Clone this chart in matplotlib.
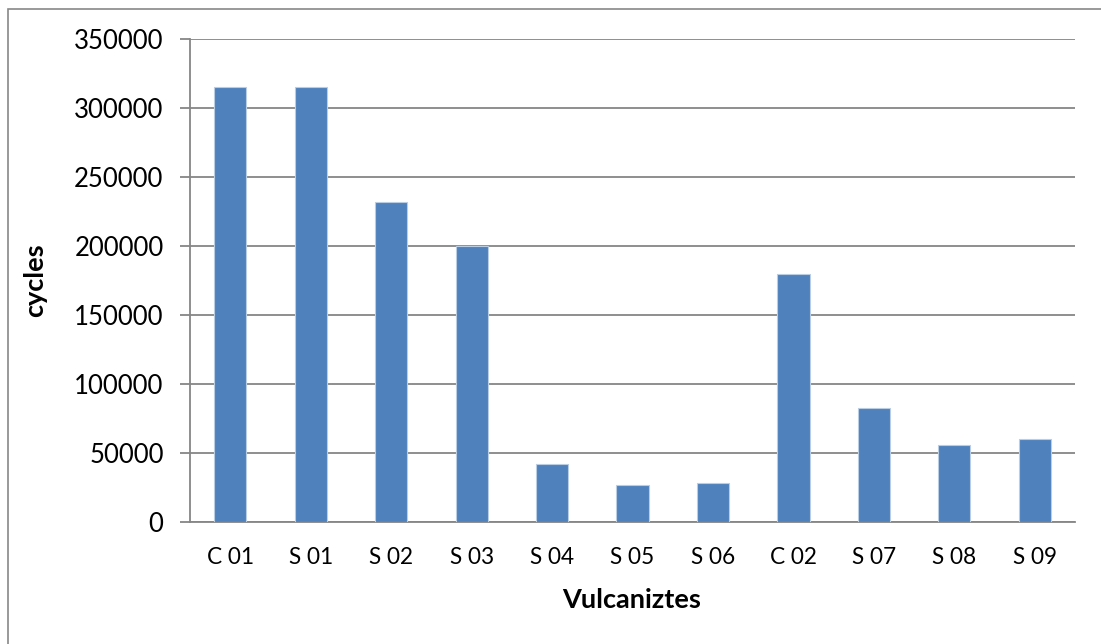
import matplotlib
matplotlib.use("Agg")
import matplotlib.pyplot as plt
from matplotlib.patches import Rectangle

# datos
categorias = ["C 01", "S 01", "S 02", "S 03", "S 04", "S 05", "S 06",
              "C 02", "S 07", "S 08", "S 09"]
ciclos = [315000, 315000, 232000, 200000, 42000, 27000, 28500,
          180000, 82500, 56000, 60000]
ticks_y = [0, 50000, 100000, 150000, 200000, 250000, 300000, 350000]

plt.rcParams['font.family'] = ['Lato', 'DejaVu Sans']

fig = plt.figure(figsize=(11.01, 6.44), dpi=100)
# marco gris alrededor del grafico
fig.patches.append(Rectangle((8 / 1101, -0.01), 1.1, 1 - 9 / 644 + 0.01,
                             transform=fig.transFigure, fill=False,
                             edgecolor="#888888", linewidth=1.2))

ax = fig.add_axes([190 / 1101, 1 - 522 / 644, (1075 - 190) / 1101, (522 - 39) / 644])
x = range(len(categorias))
ax.bar(x, ciclos, width=0.4, color="#4F81BD", edgecolor="#B9CDE5", linewidth=0.8, zorder=3)

ax.set_xlim(-0.5, len(categorias) - 0.5)
ax.set_ylim(0, 350000)
ax.set_yticks(ticks_y)
ax.set_yticklabels([str(t) for t in ticks_y], fontsize=18.5)
ax.set_xticks(list(x))
ax.set_xticklabels(categorias, fontsize=16.3)
ax.tick_params(axis="x", length=0, pad=18)
ax.tick_params(axis="y", length=7, width=1.3, color="#868686", pad=12)

ax.grid(axis="y", color="#868686", linewidth=1.3, zorder=0)
for s in ["top", "right"]:
    ax.spines[s].set_visible(False)
for s in ["left", "bottom"]:
    ax.spines[s].set_color("#868686")
    ax.spines[s].set_linewidth(1.3)

ax.set_ylabel("cycles", fontsize=19.5, fontweight="bold", va="center")
ax.set_xlabel("Vulcaniztes", fontsize=19.5, fontweight="bold", va="center")
ax.yaxis.set_label_coords((35 - 190) / 885, 0.5)
ax.xaxis.set_label_coords((632 - 190) / 885, (522 - 600) / 483)

fig.savefig("out.png", dpi=100)
